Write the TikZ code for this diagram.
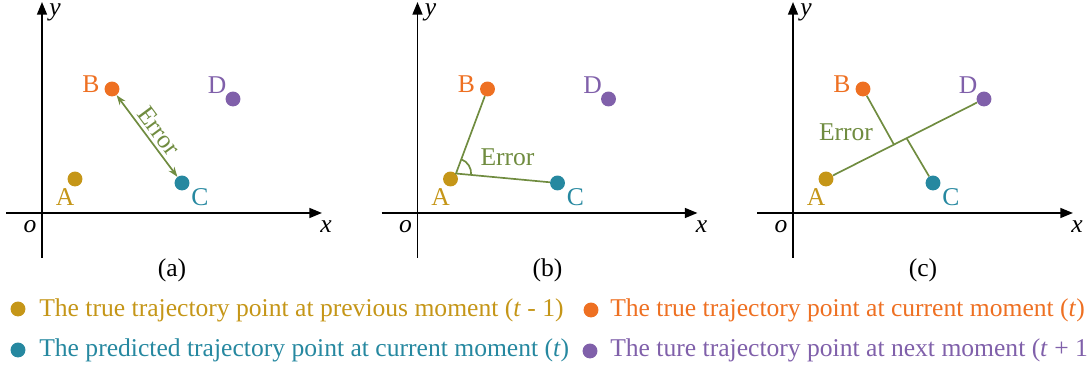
\documentclass[tikz,border=0pt]{standalone}
\usepackage{fontspec}
\setmainfont{Liberation Serif}
\usetikzlibrary{arrows.meta,angles,calc,positioning}

\definecolor{ptA}{RGB}{197,150,24}
\definecolor{ptB}{RGB}{238,112,34}
\definecolor{ptC}{RGB}{38,136,160}
\definecolor{ptD}{RGB}{128,96,170}
\definecolor{errcol}{RGB}{112,140,64}

\tikzset{
  axis/.style={line width=1.4pt, -{Triangle[length=9pt,width=7pt]}},
  pt/.style={circle, fill=#1, minimum size=10.6pt, inner sep=0pt},
  errline/.style={errcol, line width=1.2pt},
  legtext/.style={anchor=base west, inner sep=0pt}
}

\begin{document}
\begin{tikzpicture}[x=0.025cm, y=0.025cm,
    every node/.style={font=\fontsize{18.2}{21}\selectfont}]
\useasboundingbox (0,0) rectangle (1087,372);
\clip (0,0) rectangle (1087,372);

% the three panels
\foreach \lab/\ox in {a/42, b/417.5, c/793} {
  \begin{scope}[shift={(\ox,159)}]
    \draw[axis] (-36,0) -- (280,0);
    \draw[axis] (0,-45) -- (0,211);
    \node (o\lab) at (-12,-14) {\textit{o}};
    \node (x\lab) at (284,-14) {\textit{x}};
    \node (y\lab) at (13,201) {\textit{y}};
    \node (cap\lab) at (130,-57) {(\lab)};
    \node[pt=ptA] (A\lab) at (33,34) {};
    \node[pt=ptB] (B\lab) at (70,124) {};
    \node[pt=ptC] (C\lab) at (140,30) {};
    \node[pt=ptD] (D\lab) at (191,114) {};
    \node[text=ptA] at ([shift={(-10,-18)}]A\lab) {A};
    \node[text=ptB] at ([shift={(-21,5)}]B\lab) {B};
    \node[text=ptC] at ([shift={(18,-14)}]C\lab) {C};
    \node[text=ptD] at ([shift={(-16,14)}]D\lab) {D};
  \end{scope}
}

% (a)
\draw[errline, {Stealth[length=7pt,width=5pt]}-{Stealth[length=7pt,width=5pt]}]
  (Ba) -- node[pos=0.53, above, sloped, inner sep=2.5pt, text=errcol] {Error} (Ca);

% (b)
\coordinate (Vb) at (Ab.45);
\draw[errline] (Bb) -- (Vb) -- (Cb);
\pic[draw=errcol, line width=1.2pt, angle radius=0.38cm] {angle=Cb--Vb--Bb};
\node[text=errcol] (errb) at ($(Ab)+(57,22)$) {Error};

% (c)
\coordinate (P1) at ($(Ac)!0.43!(Dc)$);
\coordinate (P2) at ($(Ac)!0.51!(Dc)$);
\draw[errline] (Ac) -- (Dc);
\draw[errline] (Bc) -- (P1);
\draw[errline] (P2) -- (Cc);
\node[text=errcol] (errc) at ($(Ac)+(20,47)$) {Error};

% legend
\node[pt=ptA] (legA) at (18,63) {};
\node[legtext, text=ptA] (txtA) at (39,55) {The true trajectory point at previous moment (\textit{t} - 1)};
\node[pt=ptB] (legB) at (591,62) {};
\node[legtext, text=ptB] (txtB) at (610,55) {The true trajectory point at current moment (\textit{t})};
\node[pt=ptC] (legC) at (18,22) {};
\node[legtext, text=ptC] (txtC) at (39,15) {The predicted trajectory point at current moment (\textit{t})};
\node[pt=ptD] (legD) at (590,21) {};
\node[legtext, text=ptD] (txtD) at (610,15) {The ture trajectory point at next moment (\textit{t} + 1)};
\end{tikzpicture}
\end{document}
